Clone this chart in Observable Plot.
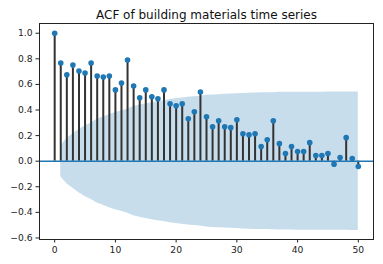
<!DOCTYPE html>
<html>
<head>
<meta charset="utf-8">
<script src="https://cdn.jsdelivr.net/npm/d3@7"></script>
<script src="https://cdn.jsdelivr.net/npm/@observablehq/plot@0.6"></script>
<style>
  html, body { margin: 0; padding: 0; background: #fff; }
  svg { display: block; }
</style>
</head>
<body>
<div id="chart"></div>
<script>
const title = "ACF of building materials time series";
const lags = d3.range(0, 51);
const acf = [1.0, 0.767, 0.676, 0.751, 0.705, 0.689, 0.767, 0.666, 0.658, 0.666,
  0.557, 0.611, 0.790, 0.588, 0.495, 0.557, 0.503, 0.487, 0.557, 0.448,
  0.433, 0.448, 0.332, 0.386, 0.541, 0.347, 0.269, 0.316, 0.269, 0.262,
  0.324, 0.215, 0.207, 0.215, 0.114, 0.168, 0.316, 0.137, 0.060, 0.114,
  0.075, 0.075, 0.145, 0.044, 0.044, 0.060, -0.023, 0.028, 0.184, 0.021, -0.041];
const bandLags = d3.range(1, 51);
const bandHalf = [0.121, 0.177, 0.212, 0.247, 0.275, 0.299, 0.327, 0.345, 0.363, 0.380,
  0.392, 0.406, 0.427, 0.439, 0.447, 0.457, 0.465, 0.472, 0.482, 0.487,
  0.493, 0.499, 0.503, 0.507, 0.515, 0.518, 0.520, 0.523, 0.525, 0.527,
  0.529, 0.531, 0.533, 0.534, 0.534, 0.535, 0.538, 0.538, 0.538, 0.539,
  0.539, 0.539, 0.539, 0.539, 0.540, 0.540, 0.540, 0.540, 0.541, 0.541];
const xTicks = [0, 10, 20, 30, 40, 50];
const yTicks = [-0.6, -0.4, -0.2, 0.0, 0.2, 0.4, 0.6, 0.8, 1.0];

const pts = lags.map((l, i) => ({lag: l, acf: acf[i]}));
const band = bandLags.map((l, i) => ({lag: l, lo: -bandHalf[i], hi: bandHalf[i]}));
const blue = "#1f77b4";

const plot = Plot.plot({
  width: 383,
  height: 264,
  marginLeft: 39,
  marginRight: 10,
  marginTop: 23,
  marginBottom: 25,
  style: {fontFamily: "DejaVu Sans", fontSize: "9.2px", color: "#222", background: "#fff"},
  x: {domain: [-2.5, 52.5], ticks: xTicks, tickFormat: d3.format("d"), tickSize: 3.5, tickPadding: 3.5, label: null},
  y: {domain: [-0.612, 1.076], ticks: yTicks, tickFormat: d3.format(".1f"), tickSize: 3.5, tickPadding: 3.5, label: null},
  marks: [
    Plot.areaY(band, {x: "lag", y1: "lo", y2: "hi", fill: blue, fillOpacity: 0.25, curve: "linear"}),
    Plot.ruleX(pts, {x: "lag", y1: 0, y2: "acf", stroke: "#333", strokeWidth: 2}),
    Plot.ruleY([0], {stroke: blue, strokeWidth: 1.6}),
    Plot.dot(pts, {x: "lag", y: "acf", r: 2.8, fill: blue, stroke: "none"}),
    Plot.frame({stroke: "#222", strokeWidth: 1}),
    Plot.text([title], {frameAnchor: "top", lineAnchor: "bottom", dy: -5, fontSize: 12, fill: "#111"})
  ]
});
document.getElementById("chart").appendChild(plot);
</script>
</body>
</html>
